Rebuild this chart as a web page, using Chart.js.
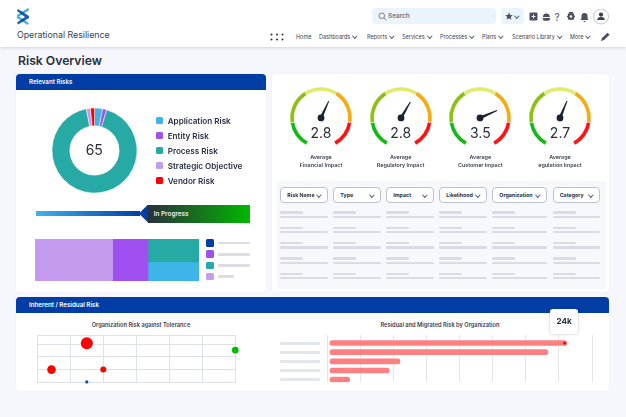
<!DOCTYPE html>
<html>
<head>
<meta charset="utf-8">
<title>Risk Overview</title>
<script src="https://cdn.jsdelivr.net/npm/chart.js@4"></script>
<style>
    html, body { margin: 0; padding: 0; }
    body { width: 626px; height: 417px; overflow: hidden; background: #f5f7fc; position: relative; font-family: Inter, "Noto Sans", sans-serif; color: #2a2f45; }
    .abs { position: absolute; white-space: nowrap; }
    canvas { position: absolute; }
    .topbar { left: 0; top: 0; width: 626px; height: 47px; background: #fff; box-shadow: 0 1px 3px rgba(40, 50, 80, 0.18); }
    .panel { background: #fff; border-radius: 4px; box-shadow: 0 0 2px rgba(40, 50, 80, 0.06); }
    .band { background: #003da5; color: #fff; font-size: 6.2px; font-weight: 600; border-radius: 4px 4px 0 0; line-height: 16px; padding-left: 13px; box-sizing: border-box; }
    .nav { top: 33.5px; font-size: 5.5px; line-height: 7px; color: #3a3f52; }
    .chev { display: inline-block; width: 2.6px; height: 2.6px; border-right: 0.7px solid #555b70; border-bottom: 0.7px solid #555b70; transform: rotate(45deg); margin-left: 3px; position: relative; top: -1px; }
    .legend-box { width: 7.6px; height: 7.6px; border-radius: 1.5px; }
    .legend-text { font-size: 8.1px; font-weight: 600; line-height: 12px; color: #2a2f45; }
    .gauge-text { width: 70px; text-align: center; font-size: 5.4px; font-weight: 600; line-height: 8.3px; color: #3a3f52; }
    .big-num { width: 50px; text-align: center; font-size: 14px; line-height: 18px; color: #2a2f3a; }
    .pill { height: 16px; box-sizing: border-box; border: 0.7px solid #bcc1cc; border-radius: 4px; background: #fff; font-size: 5.3px; font-weight: 700; line-height: 14.6px; padding-left: 6px; color: #2a2f45; }
    .pill .chev { position: absolute; right: 6px; top: 5px; margin: 0; }
    .skel { background: #d9dce3; border-radius: 1px; }
    .chart-title { font-size: 5.7px; font-weight: 600; text-align: center; color: #3a3f52; line-height: 8px; }
</style>
</head>
<body>
<div class="abs topbar"></div>
<svg class="abs" style="left:16px;top:8px" width="14" height="17" viewBox="0 0 14 17">
    <polygon points="12,0 13.5,2 3,8.5 13,15 11.5,17 1,10 1,7" fill="#3fb4e8"/>
    <polygon points="1,3 2,1 13,8 13,10 2,16.5 1,14.5 9,9" fill="#003da5" opacity="0.85"/>
</svg>
<div class="abs" style="left:17px;top:29px;font-size:8.8px;line-height:12px;color:#3a3f52">Operational Resilience</div>

<svg class="abs" style="left:270px;top:33px" width="15" height="8"><g fill="#2a2f45">
    <circle cx="1.5" cy="1.5" r="1"/><circle cx="7" cy="1.5" r="1"/><circle cx="12.5" cy="1.5" r="1"/>
    <circle cx="1.5" cy="6.5" r="1"/><circle cx="7" cy="6.5" r="1"/><circle cx="12.5" cy="6.5" r="1"/>
</g></svg>
<div id="nav"></div>
<svg class="abs" style="left:600px;top:32px" width="11" height="10" viewBox="0 0 11 10"><path d="M1 9 L2 6 L7.5 0.8 L9.6 2.8 L4 8 Z" fill="#4a4f63"/></svg>

<div class="abs" style="left:372px;top:8.3px;width:124px;height:16px;background:#eaf4fc;border-radius:4px"></div>
<svg class="abs" style="left:378px;top:12px" width="9" height="9" viewBox="0 0 9 9"><circle cx="3.8" cy="3.8" r="2.8" fill="none" stroke="#6b7080" stroke-width="0.9"/><line x1="6" y1="6" x2="8.3" y2="8.3" stroke="#6b7080" stroke-width="0.9"/></svg>
<div class="abs" style="left:388px;top:12px;font-size:6.4px;font-weight:600;line-height:8px;color:#70757f">Search</div>
<div class="abs" style="left:501.3px;top:8.3px;width:22.4px;height:16px;background:#eaf4fc;border-radius:4px"></div>
<svg class="abs" style="left:505px;top:12px" width="8" height="8" viewBox="0 0 10 10"><polygon points="5,0.5 6.4,3.7 9.8,4 7.2,6.2 8,9.6 5,7.8 2,9.6 2.8,6.2 0.2,4 3.6,3.7" fill="#4a4f63"/></svg>
<span class="abs chev" style="position:absolute;left:515px;top:14px;margin:0"></span>
<svg class="abs" style="left:528px;top:9px" width="84" height="16" viewBox="0 0 84 16">
    <rect x="1.5" y="3.5" width="8" height="8" rx="1.3" fill="#4a4f63"/><path d="M3.5 7.5h4M5.5 5.5v4" stroke="#fff" stroke-width="0.9"/>
    <path d="M15 8 a3.4 3.4 0 0 1 6.8 0 Z M14.6 9 h7.6 l-1 2.8 h-5.6 Z" fill="#4a4f63"/>
    <circle cx="43" cy="7.5" r="3.4" fill="#4a4f63"/><circle cx="43" cy="7.5" r="1.2" fill="#fff"/>
    <path d="M41 3.5 l4 0 M39 7.5 l8 0 M40 4.7 l6 5.6 M46 4.7 l-6 5.6" stroke="#4a4f63" stroke-width="1.1"/><circle cx="43" cy="7.5" r="1.2" fill="#fff"/>
    <path d="M52.5 11 c1-1 1-2.5 1-4 a3 3 0 0 1 6 0 c0 1.5 0 3 1 4 Z M55 12 h3 l-1.5 1.3 Z" fill="#4a4f63"/>
    <circle cx="73" cy="7.5" r="7.5" fill="#fff" stroke="#a9aebb" stroke-width="0.7"/><circle cx="73" cy="5.6" r="2.1" fill="#3a3f52"/><path d="M69.2 11 a3.8 3 0 0 1 7.6 0 Z" fill="#3a3f52"/>
</svg>
<div class="abs" style="left:554.5px;top:10.5px;font-size:10px;line-height:12px;color:#4a4f63">?</div>

<div class="abs" style="left:18px;top:54px;font-size:12.2px;font-weight:600;line-height:14px;color:#2a2f3a">Risk Overview</div>

<!-- relevant risks -->
<div class="abs panel" style="left:16px;top:74px;width:250px;height:218px"></div>
<div class="abs band" style="left:16px;top:74px;width:250px;height:16px">Relevant Risks</div>
<canvas id="riskDonut"></canvas>
<div class="abs big-num" style="left:69.3px;top:141px">65</div>
<div id="riskLegend"></div>

<div class="abs" style="left:36.3px;top:211px;width:104px;height:5px;background:linear-gradient(90deg,#3fb4e8,#003da5)"></div>
<div class="abs" style="left:139px;top:204.5px;width:9px;height:18px;background:#003da5;clip-path:polygon(0 50%,100% 0,100% 100%)"></div>
<div class="abs" style="left:147.7px;top:204.5px;width:102px;height:18px;background:linear-gradient(90deg,#2a2f3a,#00b800);color:#e8ebef;font-size:6.4px;font-weight:600;line-height:18px;padding-left:6px;box-sizing:border-box">In Progress</div>

<canvas id="treemap"></canvas>
<div id="treemapLegend"></div>

<!-- gauges and table -->
<div class="abs panel" style="left:272px;top:74px;width:337px;height:218px"></div>
<div id="gauges"></div>
<div class="abs" style="left:277px;top:181px;width:329px;height:108px;background:#f7f8fc;border-radius:4px"></div>
<div id="riskTable"></div>

<!-- inherent / residual -->
<div class="abs panel" style="left:16px;top:297px;width:593px;height:94px"></div>
<div class="abs band" style="left:16px;top:297px;width:593px;height:16px">Inherent / Residual Risk</div>
<div class="abs chart-title" style="left:41px;top:321px;width:200px">Organization Risk against Tolerance</div>
<canvas id="toleranceBubbles"></canvas>
<div class="abs chart-title" style="left:340px;top:321px;width:200px">Residual and Migrated Risk by Organization</div>
<canvas id="residualBars"></canvas>
<div id="barLabels"></div>
<div class="abs" style="left:550.3px;top:309.3px;width:27.7px;height:25px;background:#fff;border-radius:3px;box-shadow:0 0 3px rgba(40,50,80,0.3);font-size:8.2px;font-weight:700;line-height:25px;text-align:center;color:#2a2f3a">24k</div>

<script>
const navLabels = ['Home', 'Dashboards', 'Reports', 'Services', 'Processes', 'Plans', 'Scenario Library', 'More'];
const navLefts = [296, 319, 367, 402, 440, 482, 512, 570];

const riskCategories = ['Application Risk', 'Entity Risk', 'Process Risk', 'Strategic Objective', 'Vendor Risk'];
const riskCounts = [2, 1, 60, 1, 1];
const riskColors = ['#3fb4e8', '#a04ff0', '#27aaa5', '#c49bef', '#ff0000'];

const gaugeTitles = ['Financial Impact', 'Regulatory Impact', 'Customer Impact', 'egulation Impact'];
const gaugeLabels = ['2.8', '2.8', '3.5', '2.7'];
const needleValues = [2.81, 2.9, 3.5, 2.77];
const gaugeBands = [52, 67.5, 63, 67.5, 52];
const gaugeColors = ['#14b814', '#8cc014', '#e0ec6e', '#f5ab12', '#ff1010'];
const gaugeMin = -0.1;
const gaugeMax = 4.9;

const tableColumns = ['Risk Name', 'Type', 'Impact', 'Likelihood', 'Organization', 'Category'];

const treemapColors = ['#c49bef', '#a04ff0', '#3fb4e8', '#27aaa5'];
const treemapSpans = [77.6, 35.4, 51, 51];
const treemapStarts = [0, 77.6, 113, 113];
const treemapHeights = [41.7, 41.7, 18.3, 23.4];
const treemapOrder = ['#003da5', '#a04ff0', '#27aaa5', '#c49bef'];

const bubbleX = [1.5, 0.43, 2, 1.5, 6];
const bubbleY = [3.08, 1, 1, 0.03, 2.53];
const bubbleR = [6, 4.3, 3, 1.6, 3.3];
const bubbleColors = ['#ff0000', '#ff0000', '#ff0000', '#0a4bb5', '#00bb00'];
const bubbleYTicks = [0, 1, 2, 3, 3.72];

const orgPositions = [0, 1, 2, 3, 4];
const residualValues = [24, 22.1, 7.1, 6, 2];
const residualTicks = [-0.23, 3.12, 6.47, 9.82, 13.17, 16.52, 19.87, 23.22, 26.57];

function place(canvas, left, top, width, height) {
    canvas.width = width;
    canvas.height = height;
    canvas.style.left = left + 'px';
    canvas.style.top = top + 'px';
    canvas.style.width = width + 'px';
    canvas.style.height = height + 'px';
}

function addDiv(parent, className, style, text) {
    const el = document.createElement('div');
    el.className = 'abs ' + className;
    el.style.cssText = style;
    if (text) el.textContent = text;
    document.getElementById(parent).appendChild(el);
    return el;
}

navLabels.forEach((label, i) => {
    const el = addDiv('nav', 'nav', 'left:' + navLefts[i] + 'px', label);
    if (i > 0) el.innerHTML += '<span class="chev"></span>';
});

Chart.defaults.animation = false;
Chart.defaults.responsive = false;
Chart.defaults.plugins.legend.display = false;
Chart.defaults.plugins.tooltip.enabled = false;

// donut
place(document.getElementById('riskDonut'), 51, 107, 87, 87);
new Chart(document.getElementById('riskDonut'), {
    type: 'doughnut',
    data: {
        labels: riskCategories,
        datasets: [{ data: riskCounts, backgroundColor: riskColors, borderColor: '#fff', borderWidth: 0.5 }]
    },
    options: { cutout: '58%', radius: 42.5 }
});

riskCategories.forEach((name, i) => {
    const y = 120.7 + i * 15;
    addDiv('riskLegend', 'legend-box', 'left:155.7px;top:' + (y - 3.8) + 'px;background:' + riskColors[i]);
    addDiv('riskLegend', 'legend-text', 'left:167.7px;top:' + (y - 6) + 'px', name);
});

// treemap: stacked bars on a linear x scale so the column widths can differ
place(document.getElementById('treemap'), 34.7, 239.3, 164, 42);
new Chart(document.getElementById('treemap'), {
    type: 'bar',
    data: {
        datasets: treemapColors.map((color, i) => ({
            data: [{ x: treemapStarts[i] + treemapSpans[i] / 2, y: treemapHeights[i] }],
            backgroundColor: color,
            barThickness: treemapSpans[i]
        }))
    },
    options: {
        layout: { padding: 0 },
        scales: {
            x: { type: 'linear', offset: false, stacked: true, display: false, min: 0, max: 164 },
            y: { stacked: true, display: false, min: 0, max: 41.7 }
        }
    }
});

treemapOrder.forEach((color, i) => {
    const y = 243 + i * 11.2;
    addDiv('treemapLegend', 'legend-box', 'left:206.3px;top:' + (y - 3.8) + 'px;background:' + color);
    addDiv('treemapLegend', 'skel', 'left:217.7px;top:' + (y - 1.2) + 'px;height:2.5px;background:#dcdde3;width:' + (i === 3 ? 16 : 32) + 'px');
});

// gauge needle, read from the arc centre
const needlePlugin = {
    id: 'needle',
    afterDatasetsDraw(chart, args, opts) {
        const arc = chart.getDatasetMeta(0).data[0];
        const angle = (-151 + 302 * (opts.value - gaugeMin) / (gaugeMax - gaugeMin)) * Math.PI / 180;
        const dx = Math.sin(angle);
        const dy = -Math.cos(angle);
        const ctx = chart.ctx;
        ctx.save();
        ctx.fillStyle = '#1b2233';
        ctx.beginPath();
        ctx.arc(arc.x, arc.y, 3.4, 0, Math.PI * 2);
        ctx.fill();
        ctx.beginPath();
        ctx.moveTo(arc.x - dy * 1.5, arc.y + dx * 1.5);
        ctx.lineTo(arc.x + dx * 18.5 - dy * 0.5, arc.y + dy * 18.5 + dx * 0.5);
        ctx.lineTo(arc.x + dx * 18.5 + dy * 0.5, arc.y + dy * 18.5 - dx * 0.5);
        ctx.lineTo(arc.x + dy * 1.5, arc.y - dx * 1.5);
        ctx.closePath();
        ctx.fill();
        ctx.restore();
    }
};

gaugeTitles.forEach((title, i) => {
    const cx = 321 + i * 79.67;
    const canvas = document.createElement('canvas');
    document.getElementById('gauges').appendChild(canvas);
    place(canvas, cx - 35, 80.7, 70, 70);
    new Chart(canvas, {
        type: 'doughnut',
        data: { datasets: [{ data: gaugeBands, backgroundColor: gaugeColors, borderColor: '#fff', borderWidth: 0.4 }] },
        options: {
            rotation: -151,
            circumference: 302,
            radius: 31,
            cutout: '87%',
            plugins: { needle: { value: needleValues[i] } }
        },
        plugins: [needlePlugin]
    });
    addDiv('gauges', 'big-num', 'left:' + (cx - 25) + 'px;top:123.5px', gaugeLabels[i]);
    addDiv('gauges', 'gauge-text', 'left:' + (cx - 35) + 'px;top:152.5px', 'Average');
    addDiv('gauges', 'gauge-text', 'left:' + (cx - 35) + 'px;top:160.8px', title);
});

// filter row and placeholder rows
const colLefts = [280.3, 333.3, 386.3, 439.3, 492.3, 552.7];
const colWidths = [47.4, 47.4, 47.4, 47.4, 54.7, 47.3];
tableColumns.forEach((name, i) => {
    const pill = addDiv('riskTable', 'pill', 'left:' + colLefts[i] + 'px;top:186.7px;width:' + colWidths[i] + 'px', name);
    pill.innerHTML += '<span class="chev"></span>';
    for (let row = 0; row < 5; row++) {
        const y = 211.3 + row * 15.35;
        addDiv('riskTable', 'skel', 'left:' + colLefts[i] + 'px;top:' + y + 'px;width:23px;height:2.4px');
        addDiv('riskTable', 'skel', 'left:' + colLefts[i] + 'px;top:' + (y + 4.3) + 'px;width:' + colWidths[i] + 'px;height:2.4px');
    }
});

// risk against tolerance
place(document.getElementById('toleranceBubbles'), 25, 325, 225, 65);
new Chart(document.getElementById('toleranceBubbles'), {
    type: 'bubble',
    data: {
        datasets: [{
            data: bubbleX.map((x, i) => ({ x: x, y: bubbleY[i], r: bubbleR[i] })),
            backgroundColor: bubbleColors,
            borderWidth: 0,
            clip: false
        }]
    },
    options: {
        layout: { padding: { left: 12.3, right: 14.7, top: 10, bottom: 7.7 } },
        scales: {
            x: {
                min: 0,
                max: 6,
                ticks: { display: false, stepSize: 1 },
                grid: { color: '#dfe1e8', drawTicks: false },
                border: { color: '#dfe1e8' }
            },
            y: {
                min: 0,
                max: 3.72,
                afterBuildTicks: (scale) => { scale.ticks = bubbleYTicks.map((value) => ({ value })); },
                ticks: { display: false },
                grid: { color: '#dfe1e8', drawTicks: false },
                border: { color: '#dfe1e8' }
            }
        }
    }
});

// residual bars, tip dot taken from the first bar element
const tipDotPlugin = {
    id: 'tipDot',
    afterDatasetsDraw(chart) {
        const bar = chart.getDatasetMeta(0).data[0];
        const ctx = chart.ctx;
        ctx.save();
        ctx.fillStyle = '#ff0000';
        ctx.beginPath();
        ctx.arc(bar.x - 2, bar.y, 1.6, 0, Math.PI * 2);
        ctx.fill();
        ctx.restore();
    }
};

place(document.getElementById('residualBars'), 320, 330, 280, 57);
new Chart(document.getElementById('residualBars'), {
    type: 'bar',
    data: {
        datasets: [{
            data: residualValues.map((v, i) => ({ x: v, y: orgPositions[i] })),
            backgroundColor: '#ff8083',
            borderRadius: 2.5,
            borderSkipped: false,
            barThickness: 5
        }]
    },
    options: {
        indexAxis: 'y',
        layout: { padding: { left: 7.7, right: 8, top: 5, bottom: 4.7 } },
        scales: {
            x: {
                min: -0.23,
                max: 26.57,
                afterBuildTicks: (scale) => { scale.ticks = residualTicks.map((value) => ({ value })); },
                ticks: { display: false },
                grid: { color: '#e5e6ec', drawTicks: false },
                border: { display: false }
            },
            y: {
                type: 'linear',
                offset: false,
                reverse: true,
                min: -0.87,
                max: 4.29,
                ticks: { display: false },
                grid: { display: false, drawTicks: false },
                border: { display: false }
            }
        }
    },
    plugins: [tipDotPlugin]
});

orgPositions.forEach((pos) => {
    addDiv('barLabels', 'skel', 'left:280px;top:' + (341.5 + pos * 9.17) + 'px;width:40px;height:3px;background:#e4e6ee');
});
</script>
</body>
</html>
